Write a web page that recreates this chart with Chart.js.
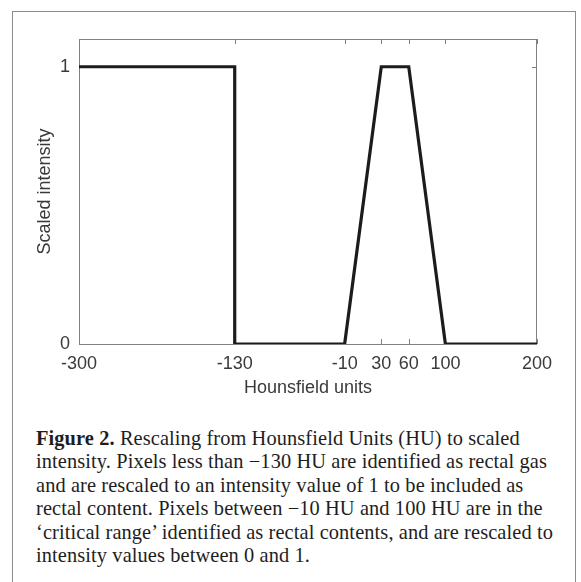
<!DOCTYPE html>
<html>
<head>
<meta charset="utf-8">
<script src="https://cdn.jsdelivr.net/npm/chart.js@4"></script>
<style>
  body { margin: 0; background: #fff; }
  #frame {
    position: absolute; left: 12px; top: 11px; width: 562px; height: 600px;
    border: 1.5px solid #8c8c8c; border-bottom: none;
  }
  #plot { position: absolute; left: 0; top: 0; }
  #caption {
    position: absolute; left: 36px; top: 427px;
    font-family: "Liberation Serif", "DejaVu Serif", serif;
    font-size: 20.4px; line-height: 23.4px; color: #1e1e1e;
    letter-spacing: 0.1px;
    white-space: nowrap;
  }
</style>
</head>
<body>
<div id="frame"></div>
<canvas id="plot" width="581" height="410"></canvas>
<div id="caption">
  <b>Figure 2.</b> Rescaling from Hounsfield Units (HU) to scaled<br>
  intensity. Pixels less than −130 HU are identified as rectal gas<br>
  and are rescaled to an intensity value of 1 to be included as<br>
  rectal content. Pixels between −10 HU and 100 HU are in the<br>
  ‘critical range’ identified as rectal contents, and are rescaled to<br>
  intensity values between 0 and 1.
</div>
<script>
// HU -> scaled intensity mapping
var huPoints  = [-300, -130, -130, -10, 30, 60, 100, 200];
var intensity = [1, 1, 0, 0, 1, 1, 0, 0];
var xTicks = [-300, -130, -10, 30, 60, 100, 200];
var yTicks = [0, 1];

var axisGray = "#808080";
var textGray = "#3a3a3a";

// matlab style box with inward ticks on all four sides
var boxPlugin = {
    id: "box",
    beforeDatasetsDraw: function(chart) {
        var ctx = chart.ctx, a = chart.chartArea;
        var xs = chart.scales.x, ys = chart.scales.y;
        var t = 5;
        ctx.save();
        ctx.strokeStyle = axisGray;
        ctx.lineWidth = 1;
        ctx.strokeRect(a.left + 0.5, a.top + 0.5, a.right - a.left - 1, a.bottom - a.top);
        ctx.beginPath();
        xTicks.forEach(function(v) {
            var px = Math.round(xs.getPixelForValue(v)) + 0.5;
            ctx.moveTo(px, a.bottom); ctx.lineTo(px, a.bottom - t);
            ctx.moveTo(px, a.top); ctx.lineTo(px, a.top + t);
        });
        yTicks.forEach(function(v) {
            var py = Math.round(ys.getPixelForValue(v)) + 0.5;
            ctx.moveTo(a.left, py); ctx.lineTo(a.left + t, py);
            ctx.moveTo(a.right, py); ctx.lineTo(a.right - t, py);
        });
        ctx.stroke();
        ctx.restore();
    }
};

var tickFont = { family: "'Liberation Sans', Arial, sans-serif", size: 18 };

new Chart("plot", {
    type: "scatter",
    data: {
        datasets: [{
            data: huPoints.map(function(x, i) { return { x: x, y: intensity[i] }; }),
            showLine: true,
            borderColor: "#1c1c1c",
            borderWidth: 3.2,
            borderJoinStyle: "miter",
            pointRadius: 0,
            tension: 0
        }]
    },
    options: {
        responsive: false,
        animation: false,
        layout: { padding: { top: 39, right: 44, left: 0, bottom: 0 } },
        plugins: { legend: { display: false }, tooltip: { enabled: false } },
        scales: {
            x: {
                type: "linear",
                min: -300, max: 200,
                grid: { display: false, drawTicks: false },
                border: { display: false },
                afterBuildTicks: function(s) { s.ticks = xTicks.map(function(v) { return { value: v }; }); },
                afterFit: function(s) { s.height = 66; },
                ticks: { autoSkip: false, maxRotation: 0, padding: 9, color: textGray, font: tickFont },
                title: { display: true, text: "Hounsfield units", color: textGray, font: tickFont, padding: { bottom: 11 } }
            },
            y: {
                min: 0, max: 1.1,
                grid: { display: false, drawTicks: false },
                border: { display: false },
                afterBuildTicks: function(s) { s.ticks = yTicks.map(function(v) { return { value: v }; }); },
                afterFit: function(s) { s.width = 79; },
                ticks: { padding: 9, color: textGray, font: tickFont },
                title: { display: true, text: "Scaled intensity", color: textGray, font: tickFont, padding: { top: 34 } }
            }
        }
    },
    plugins: [boxPlugin]
});
</script>
</body>
</html>
